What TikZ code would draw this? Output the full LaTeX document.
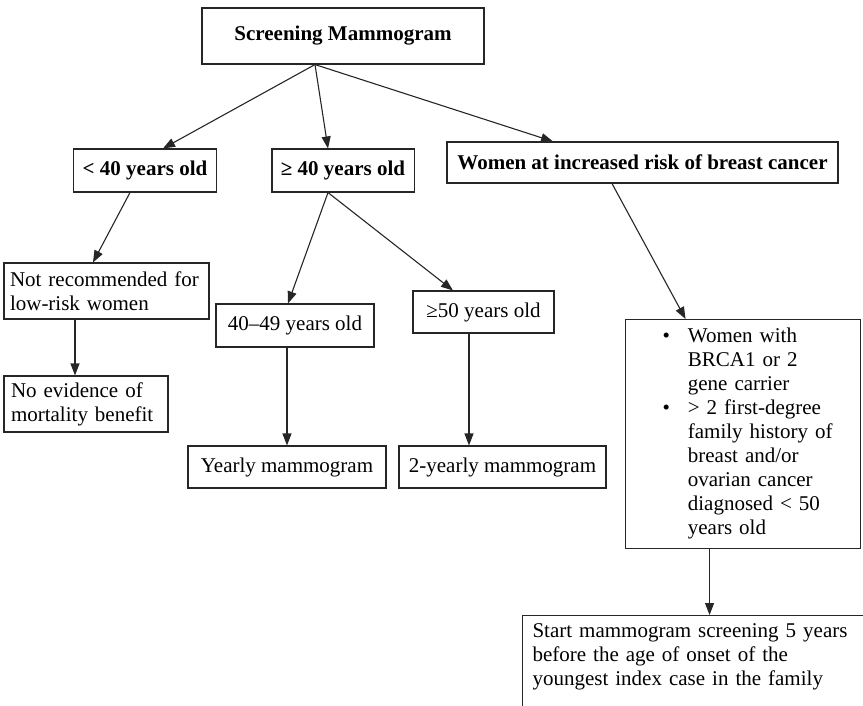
\documentclass[tikz,border=0pt]{standalone}
\usepackage{fontspec}
\setmainfont{Liberation Serif}
\usetikzlibrary{arrows.meta}
\begin{document}
\begin{tikzpicture}[x=1pt,y=1pt,
  every node/.style={font=\fontsize{21}{24}\selectfont},
  box/.style={draw=black!85, line width=1.1pt, inner xsep=9pt, inner ysep=0pt, align=center},
  head/.style={box, font=\bfseries\fontsize{21}{24}\selectfont},
  note/.style={box, align=left},
  link/.style={draw=black!85, line width=1.1pt, -{Triangle[length=12pt,width=9pt]}}]
\useasboundingbox (0,0) rectangle (863,-705);
\clip (0,0) rectangle (863,-705);

% first level
\node[head, minimum width=282pt, minimum height=56pt] (top) at (343,-36) {Screening Mammogram};
\node[head, minimum width=142pt, minimum height=43pt] (young) at (145,-170.5) {< 40 years old};
\node[head, minimum width=142pt, minimum height=43pt] (older) at (343,-170.5) {≥ 40 years old};
\node[head, minimum width=391pt, minimum height=41pt] (risk) at (642.5,-162.5) {Women at increased risk of breast cancer};

% under 40
\node[note, inner xsep=6pt, text width=193pt, minimum height=56pt] (notrec) at (106.5,-291) {Not recommended for\\low-risk women};
\node[note, inner xsep=7pt, text width=150pt, minimum height=56pt] (noevid) at (86,-404) {No evidence of\\mortality benefit};

% 40 and over
\node[box, minimum width=158pt, minimum height=43pt] (forties) at (295,-325.5) {40–49 years old};
\node[box, minimum width=141pt, minimum height=42pt] (fifties) at (483.5,-312) {≥50 years old};
\node[box, minimum width=198pt, minimum height=42pt] (yearly) at (287,-467) {Yearly mammogram};
\node[box, minimum width=207pt, minimum height=42pt] (biyearly) at (502.5,-467) {2-yearly mammogram};

% increased risk
\node[box, anchor=north west, inner xsep=0pt, text width=235pt, align=left, minimum height=229pt] (criteria) at (625,-319)
  {\hspace*{37pt}\begin{tabular}{@{}l@{\hspace{18pt}}l@{}}
   \textbullet & Women with\\
               & BRCA1 or 2\\
               & gene carrier\\
   \textbullet & > 2 first-degree\\
               & family history of\\
               & breast and/or\\
               & ovarian cancer\\
               & diagnosed < 50\\
               & years old
   \end{tabular}};
\node[note, anchor=north west, inner xsep=10pt, inner ysep=8pt, text width=380pt, text depth=120pt] (start) at (522,-615)
  {Start mammogram screening 5 years\\before the age of onset of the\\youngest index case in the family};

% connectors
\draw[link] ([xshift=-28pt]top.south) -- ([xshift=18pt]young.north);
\draw[link] ([xshift=-28pt]top.south) -- ([xshift=-15pt]older.north);
\draw[link] ([xshift=-28pt]top.south) -- ([xshift=-89.5pt]risk.north);
\draw[link] ([xshift=-15pt]young.south) -- ([xshift=-13.5pt]notrec.north);
\draw[link] ([xshift=-31.5pt]notrec.south) -- ([xshift=-31.5pt]notrec.south |- noevid.north);
\draw[link] ([xshift=-15pt]older.south) -- ([xshift=-7pt]forties.north);
\draw[link] ([xshift=-15pt]older.south) -- ([xshift=-30.5pt]fifties.north);
\draw[link] ([xshift=-8pt]forties.south) -- ([xshift=-8pt]forties.south |- yearly.north);
\draw[link] ([xshift=-14.5pt]fifties.south) -- ([xshift=-14.5pt]fifties.south |- biyearly.north);
\draw[link] ([xshift=-30.5pt]risk.south) -- ([xshift=-57.5pt]criteria.north);
\draw[link] ([xshift=-33.5pt]criteria.south) -- ([xshift=-33.5pt]criteria.south |- start.north);
\end{tikzpicture}
\end{document}
